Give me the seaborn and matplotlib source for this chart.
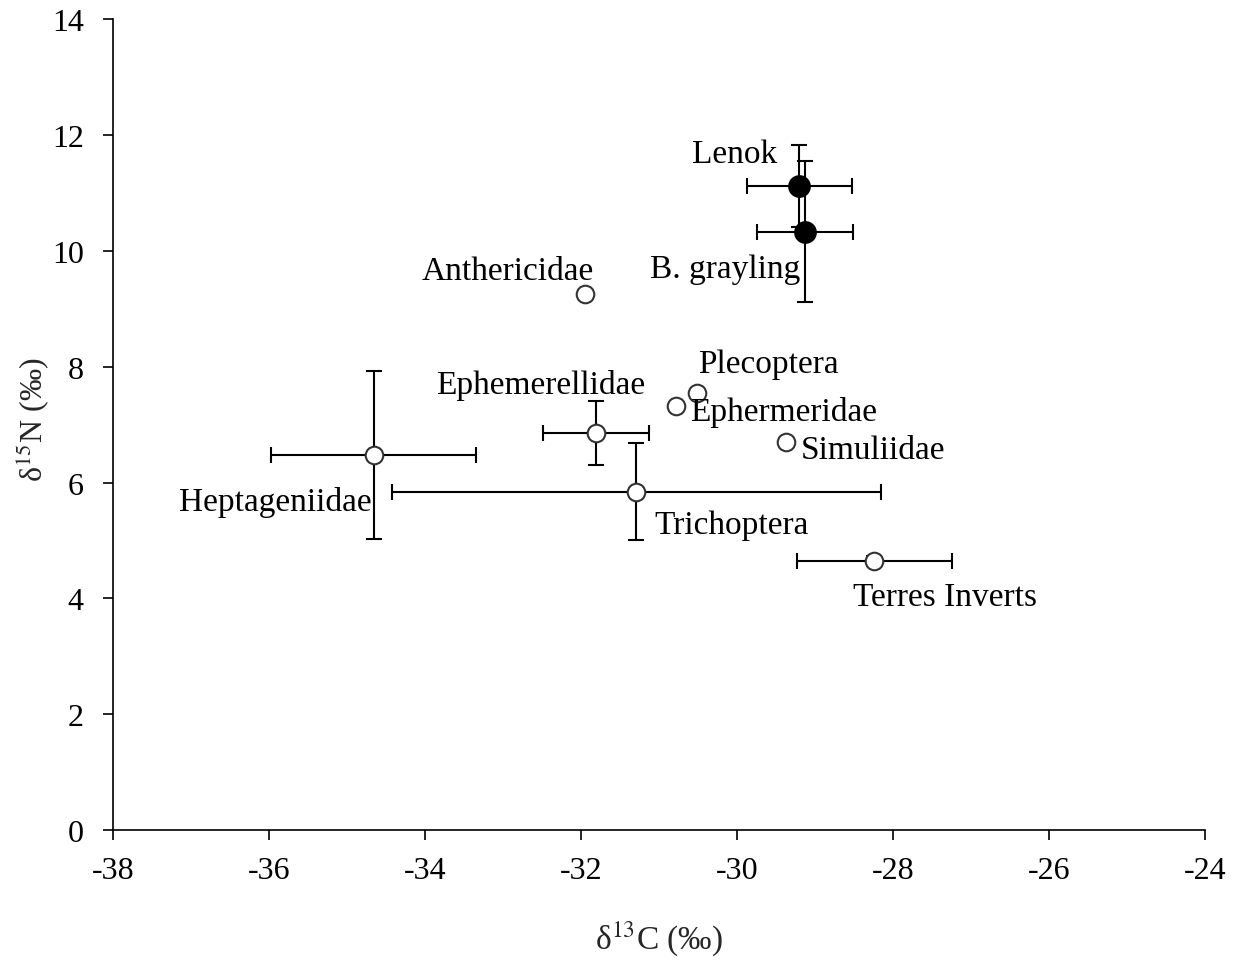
"""Stable isotope biplot (d13C vs d15N) for fish and invertebrate taxa."""
import numpy as np
import pandas as pd
import matplotlib
matplotlib.use("Agg")
import matplotlib.pyplot as plt
import seaborn as sns

taxa = ["Lenok", "B. grayling", "Anthericidae", "Plecoptera", "Ephermeridae",
        "Simuliidae", "Ephemerellidae", "Heptageniidae", "Trichoptera",
        "Terres Inverts"]
d13c = [-29.20, -29.13, -31.95, -30.51, -30.78, -29.37, -31.81, -34.66, -31.29, -28.24]
d15n = [11.12, 10.33, 9.26, 7.55, 7.32, 6.70, 6.86, 6.48, 5.84, 4.64]
c_err = [0.67, 0.62, np.nan, np.nan, np.nan, np.nan, 0.68, 1.31, 3.13, 0.99]
n_err = [0.71, 1.22, np.nan, np.nan, np.nan, np.nan, 0.55, 1.45, 0.84, 0.09]
is_fish = [True, True, False, False, False, False, False, False, False, False]

# label anchor (left edge, vertical centre) in data units
label_xy = {
    "Lenok": (-30.58, 11.68),
    "B. grayling": (-31.12, 9.69),
    "Anthericidae": (-34.04, 9.65),
    "Plecoptera": (-30.50, 8.05),
    "Ephermeridae": (-30.60, 7.22),
    "Simuliidae": (-29.18, 6.56),
    "Ephemerellidae": (-33.86, 7.70),
    "Heptageniidae": (-37.15, 5.68),
    "Trichoptera": (-31.06, 5.27),
    "Terres Inverts": (-28.51, 4.02),
}

df = pd.DataFrame({"taxon": taxa, "d13c": d13c, "d15n": d15n,
                   "c_err": c_err, "n_err": n_err, "fish": is_fish})

sns.set_style("ticks")
plt.rcParams["font.family"] = ["Liberation Serif", "DejaVu Serif"]
plt.rcParams["mathtext.fontset"] = "stix"
plt.rcParams["axes.unicode_minus"] = False

fig = plt.figure(figsize=(12.34, 9.62), dpi=100)
ax = fig.add_axes([0.0916, 0.1362, 0.885, 0.8428])

# error bars
err = df.dropna(subset=["c_err"])
ax.errorbar(err["d13c"], err["d15n"], xerr=err["c_err"], yerr=err["n_err"],
            fmt="none", ecolor="black", elinewidth=1.5, capsize=6, capthick=1.5,
            zorder=2)

# invertebrates: open circles
sns.scatterplot(data=df[~df["fish"]], x="d13c", y="d15n", ax=ax, s=160,
                facecolor="white", edgecolor="#333333", linewidth=1.5,
                zorder=3, legend=False)
# fish: filled circles
sns.scatterplot(data=df[df["fish"]], x="d13c", y="d15n", ax=ax, s=230,
                color="black", edgecolor="black", zorder=3, legend=False)

for name in taxa:
    x, y = label_xy[name]
    ax.text(x, y, name, fontsize=24, ha="left", va="center", color="black")

ax.set_xlim(-38, -24)
ax.set_ylim(0, 14)
ax.set_xticks(range(-38, -23, 2))
ax.set_yticks(range(0, 15, 2))
ax.tick_params(axis="both", labelsize=23, length=7, width=1.2, colors="black")
ax.tick_params(axis="x", pad=12)
ax.tick_params(axis="y", pad=14)
ax.set_xlabel("δ$^{13}$C (‰)", fontsize=24, labelpad=24)
ax.set_ylabel("δ$^{15}$N (‰)", fontsize=23)
ax.yaxis.set_label_coords(-0.057, 0.507)
for side in ["top", "right"]:
    ax.spines[side].set_visible(False)
for side in ["left", "bottom"]:
    ax.spines[side].set_linewidth(1.2)
    ax.spines[side].set_color("black")

fig.savefig("out.png", dpi=100)
plt.close(fig)
